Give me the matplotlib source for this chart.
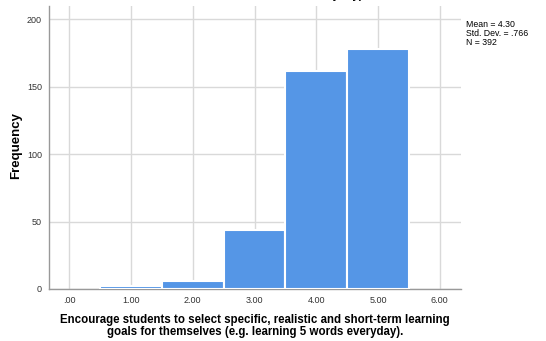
import matplotlib.pyplot as plt

plt.rcParams["font.family"] = ["Liberation Sans", "DejaVu Sans"]

# histogram of responses (SPSS style)
values = [1, 2, 3, 4, 5]
counts = [2, 6, 44, 162, 178]
xticks = [0, 1, 2, 3, 4, 5, 6]
xtick_labels = [".00", "1.00", "2.00", "3.00", "4.00", "5.00", "6.00"]
yticks = [0, 50, 100, 150, 200]
stats_text = "Mean = 4.30\nStd. Dev. = .766\nN = 392"

fig = plt.figure(figsize=(5.46, 3.41), dpi=100)
ax = fig.add_axes([0.0897, 0.1525, 0.754, 0.83])

ax.bar(values, counts, width=1.0, color="#5596e6", edgecolor="white", linewidth=1.5, zorder=3)

ax.set_xlim(-0.33, 6.34)
ax.set_ylim(0, 210)
ax.set_xticks(xticks)
ax.set_xticklabels(xtick_labels)
ax.set_yticks(yticks)
ax.tick_params(axis="both", labelsize=6.5, colors="#333333", length=0)
ax.tick_params(axis="y", pad=5)
ax.tick_params(axis="x", pad=5)
ax.grid(True, color="#d9d9d9", linewidth=1, zorder=0)

for side in ("top", "right"):
    ax.spines[side].set_visible(False)
for side in ("left", "bottom"):
    ax.spines[side].set_color("#999999")
    ax.spines[side].set_linewidth(1)

fig.text(0.029, 0.573, "Frequency", fontsize=9.5, fontweight="bold",
         rotation=90, ha="center", va="center")
fig.text(0.467, 0.045, "Encourage students to select specific, realistic and short-term learning\n"
         "goals for themselves (e.g. learning 5 words everyday).",
         fontsize=8.3, fontweight="bold", ha="center", va="center", linespacing=1.0)

fig.text(0.853, 0.94, stats_text, fontsize=6.3, va="top", ha="left", linespacing=0.95)
# title is cut off at the top edge in the original
fig.text(0.584, 1.015, "words everyday).", fontsize=8.3, fontweight="bold", ha="center", va="center")

fig.savefig("out.png", dpi=100)
